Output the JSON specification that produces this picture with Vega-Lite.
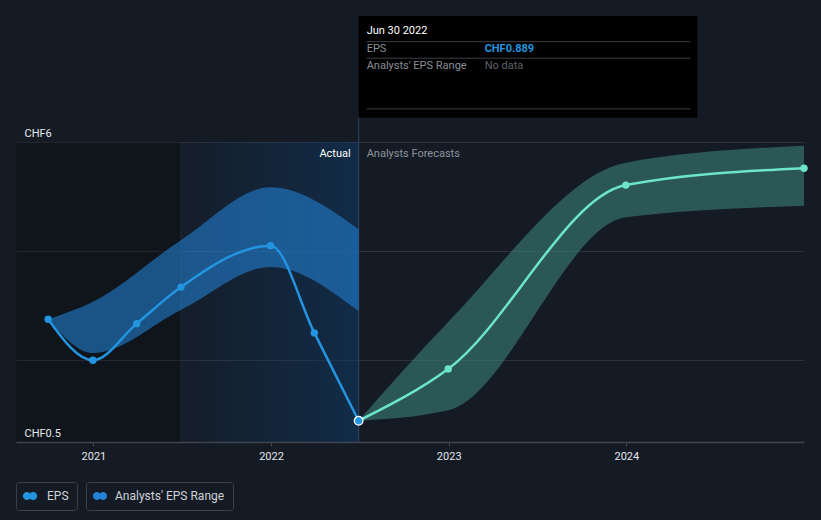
{
  "$schema": "https://vega.github.io/schema/vega-lite/v6.json",
  "autosize": {"type": "none"},
  "width": 788,
  "height": 300,
  "padding": {"left": 16, "top": 142, "right": 17, "bottom": 78},
  "background": "#151b25",
  "config": {
    "view": {"stroke": null},
    "font": "Roboto",
    "axis": {"labelFont": "Roboto", "titleFont": "Roboto"},
    "legend": {"labelFont": "Roboto"}
  },
  "data": {"values": [{"one": 1}]},
  "datasets": {
    "past": [
      {"d": "2020-09-30", "v": 2.75},
      {"d": "2020-12-31", "v": 2.0},
      {"d": "2021-03-31", "v": 2.67},
      {"d": "2021-06-30", "v": 3.34},
      {"d": "2021-12-31", "v": 4.10},
      {"d": "2022-03-31", "v": 2.50},
      {"d": "2022-06-30", "v": 0.889}
    ],
    "pastBand": [
      {"d": "2020-09-30", "lo": 2.75, "hi": 2.75},
      {"d": "2020-12-31", "lo": 2.13, "hi": 3.07},
      {"d": "2021-06-30", "lo": 2.92, "hi": 4.20},
      {"d": "2021-12-31", "lo": 3.71, "hi": 5.17},
      {"d": "2022-06-30", "lo": 2.90, "hi": 4.40}
    ],
    "forecast": [
      {"d": "2022-06-30", "v": 0.889},
      {"d": "2022-12-31", "v": 1.84},
      {"d": "2023-12-31", "v": 5.21},
      {"d": "2024-12-31", "v": 5.52}
    ],
    "forecastBand": [
      {"d": "2022-06-30", "lo": 0.889, "hi": 0.889},
      {"d": "2022-12-31", "lo": 1.08, "hi": 2.70},
      {"d": "2023-12-31", "lo": 4.62, "hi": 5.62},
      {"d": "2024-12-31", "lo": 4.83, "hi": 5.93}
    ]
  },
  "resolve": {"scale": {"color": "independent"}, "legend": {"color": "independent"}, "axis": {"y": "independent"}},
  "layer": [
    {
      "mark": {"type": "rect", "color": "#000000", "opacity": 0.22},
      "encoding": {
        "x": {"datum": {"year": 2020, "month": 7, "date": 26, "utc": true}, "type": "temporal",
              "scale": {"type": "utc", "domain": [{"year": 2020, "month": 7, "date": 26, "utc": true}, {"year": 2024, "month": 12, "date": 31, "utc": true}]},
              "axis": {"values": [{"year": 2021, "utc": true}, {"year": 2022, "utc": true}, {"year": 2023, "utc": true}, {"year": 2024, "utc": true}],
                       "format": "%Y", "title": null, "grid": false, "domainColor": "#3f444e", "domainWidth": 1.5, "zindex": 1,
                       "tickColor": "#3f444e", "tickSize": 4, "labelColor": "#e4e6ea", "labelFontSize": 11, "labelPadding": 4}},
        "x2": {"datum": {"year": 2021, "month": 6, "date": 30, "utc": true}},
        "y": {"datum": 0.5, "type": "quantitative",
              "scale": {"domain": [0.5, 6], "zero": false, "nice": false},
              "axis": {"orient": "left", "values": [2, 4, 6], "grid": true, "gridColor": "#2c313b", "gridWidth": 1, "zindex": 0,
                       "labels": false, "ticks": false, "domain": false, "title": null}},
        "y2": {"datum": 6}
      }
    },
    {
      "mark": {"type": "rect", "color": {"gradient": "linear", "x1": 0, "y1": 0, "x2": 1, "y2": 0,
                "stops": [{"offset": 0, "color": "rgba(14,60,105,0.06)"}, {"offset": 1, "color": "rgba(14,60,105,0.5)"}]}},
      "encoding": {
        "x": {"datum": {"year": 2021, "month": 6, "date": 30, "utc": true}, "type": "temporal"},
        "x2": {"datum": {"year": 2022, "month": 6, "date": 30, "utc": true}},
        "y": {"datum": 0.5, "type": "quantitative", "axis": null},
        "y2": {"datum": 6}
      }
    },
    {
      "mark": {"type": "rule", "color": "#1c2a3a", "strokeWidth": 1},
      "encoding": {
        "x": {"datum": {"year": 2021, "month": 6, "date": 30, "utc": true}, "type": "temporal"},
        "y": {"datum": 0.5, "type": "quantitative", "axis": null},
        "y2": {"datum": 6}
      }
    },
    {
      "mark": {"type": "rule", "color": "#2a4763", "strokeWidth": 1},
      "encoding": {
        "x": {"datum": {"year": 2022, "month": 6, "date": 30, "utc": true}, "type": "temporal"},
        "y": {"datum": 0.5, "type": "quantitative", "axis": null},
        "y2": {"datum": 6.45}
      }
    },
    {
      "data": {"name": "pastBand"},
      "mark": {"type": "area", "interpolate": "monotone", "opacity": 0.58},
      "encoding": {
        "x": {"field": "d", "type": "temporal"},
        "y": {"field": "hi", "type": "quantitative", "axis": null},
        "y2": {"field": "lo"},
        "color": {"datum": "Analysts' EPS Range", "scale": {"range": ["#2282d4"]},
                  "legend": {"orient": "none", "legendX": 70, "legendY": 340, "direction": "horizontal", "title": null,
                             "strokeColor": "#3c414b", "cornerRadius": 3, "padding": 8, "symbolOpacity": 1,
                             "symbolType": "M-1.6,0a0.9,0.9 0 1,0 1.8,0a0.9,0.9 0 1,0 -1.8,0M-0.2,0a0.9,0.9 0 1,0 1.8,0a0.9,0.9 0 1,0 -1.8,0",
                             "symbolSize": 80, "symbolFillColor": "#285e7c", "symbolStrokeWidth": 0,
                             "labelColor": "#cfd2d8", "labelFontSize": 12, "labelOffset": 9}}
      }
    },
    {
      "data": {"name": "forecastBand"},
      "mark": {"type": "area", "interpolate": "monotone", "color": "#3e8a80", "opacity": 0.55},
      "encoding": {
        "x": {"field": "d", "type": "temporal"},
        "y": {"field": "hi", "type": "quantitative", "axis": null},
        "y2": {"field": "lo"}
      }
    },
    {
      "data": {"name": "past"},
      "mark": {"type": "line", "interpolate": "monotone", "color": "#2394df", "strokeWidth": 2.5},
      "encoding": {
        "x": {"field": "d", "type": "temporal"},
        "y": {"field": "v", "type": "quantitative", "axis": null}
      }
    },
    {
      "data": {"name": "forecast"},
      "mark": {"type": "line", "interpolate": "monotone", "color": "#6ce5cc", "strokeWidth": 2.5},
      "encoding": {
        "x": {"field": "d", "type": "temporal"},
        "y": {"field": "v", "type": "quantitative", "axis": null}
      }
    },
    {
      "data": {"name": "past"},
      "mark": {"type": "point", "filled": true, "size": 55, "opacity": 1},
      "encoding": {
        "x": {"field": "d", "type": "temporal"},
        "y": {"field": "v", "type": "quantitative", "axis": null},
        "color": {"datum": "EPS", "scale": {"range": ["#2394df"]},
                  "legend": {"orient": "none", "legendX": 0, "legendY": 340, "direction": "horizontal", "title": null,
                             "strokeColor": "#3c414b", "cornerRadius": 3, "padding": 8,
                             "symbolType": "M-1.6,0a0.9,0.9 0 1,0 1.8,0a0.9,0.9 0 1,0 -1.8,0M-0.2,0a0.9,0.9 0 1,0 1.8,0a0.9,0.9 0 1,0 -1.8,0",
                             "symbolSize": 80, "symbolFillColor": "#48c0da", "symbolStrokeWidth": 0,
                             "labelColor": "#cfd2d8", "labelFontSize": 12, "labelOffset": 11}}
      }
    },
    {
      "data": {"name": "forecast"},
      "transform": [{"filter": "datum.d != '2022-06-30'"}],
      "mark": {"type": "point", "filled": true, "size": 55, "color": "#6ce5cc", "opacity": 1},
      "encoding": {
        "x": {"field": "d", "type": "temporal"},
        "y": {"field": "v", "type": "quantitative", "axis": null}
      }
    },
    {
      "data": {"values": [{"d": "2022-06-30", "v": 0.889}]},
      "mark": {"type": "point", "filled": true, "size": 75, "fill": "#2394df", "stroke": "#ffffff", "strokeWidth": 1.3, "opacity": 1},
      "encoding": {
        "x": {"field": "d", "type": "temporal"},
        "y": {"field": "v", "type": "quantitative", "axis": null}
      }
    },
    {
      "mark": {"type": "text", "align": "right", "baseline": "middle", "dx": -8, "dy": 12, "color": "#ffffff", "fontSize": 11},
      "encoding": {
        "x": {"datum": {"year": 2022, "month": 6, "date": 30, "utc": true}, "type": "temporal"},
        "y": {"datum": 6, "type": "quantitative",
              "axis": {"orient": "left", "values": [0.5, 6], "labelExpr": "'CHF' + datum.value", "grid": false, "ticks": false, "domain": false,
                       "zindex": 1, "labelOverlap": false, "title": null,
                       "labelAlign": "left", "labelBaseline": "alphabetic", "labelPadding": -8, "labelOffset": -6,
                       "labelColor": "#e8eaee", "labelFontSize": 11}},
        "text": {"value": "Actual"}
      }
    },
    {
      "mark": {"type": "text", "align": "left", "baseline": "middle", "dx": 8, "dy": 12, "color": "#8e939b", "fontSize": 11},
      "encoding": {
        "x": {"datum": {"year": 2022, "month": 6, "date": 30, "utc": true}, "type": "temporal"},
        "y": {"datum": 6, "type": "quantitative", "axis": null},
        "text": {"value": "Analysts Forecasts"}
      }
    },
    {
      "mark": {"type": "rect", "color": "#000000"},
      "encoding": {
        "x": {"datum": {"year": 2022, "month": 6, "date": 30, "utc": true}, "type": "temporal"},
        "x2": {"datum": {"year": 2024, "month": 5, "date": 26, "utc": true}},
        "y": {"datum": 6.446, "type": "quantitative", "axis": null},
        "y2": {"datum": 8.312}
      }
    },
    {
      "data": {"values": [{"y": 7.84}, {"y": 7.536}, {"y": 6.606}]},
      "mark": {"type": "rule", "color": "#3a3d42", "strokeWidth": 1, "xOffset": 8, "x2Offset": -7},
      "encoding": {
        "x": {"datum": {"year": 2022, "month": 6, "date": 30, "utc": true}, "type": "temporal"},
        "x2": {"datum": {"year": 2024, "month": 5, "date": 26, "utc": true}},
        "y": {"field": "y", "type": "quantitative", "axis": null}
      }
    },
    {
      "mark": {"type": "text", "align": "left", "baseline": "middle", "dx": 8, "color": "#ffffff", "fontSize": 11},
      "encoding": {
        "x": {"datum": {"year": 2022, "month": 6, "date": 30, "utc": true}, "type": "temporal"},
        "y": {"datum": 8.04, "type": "quantitative", "axis": null},
        "text": {"value": "Jun 30 2022"}
      }
    },
    {
      "data": {"values": [{"t": "EPS", "y": 7.706}, {"t": "Analysts' EPS Range", "y": 7.394}]},
      "mark": {"type": "text", "align": "left", "baseline": "middle", "dx": 8, "color": "#8a8e95", "fontSize": 11},
      "encoding": {
        "x": {"datum": {"year": 2022, "month": 6, "date": 30, "utc": true}, "type": "temporal"},
        "y": {"field": "y", "type": "quantitative", "axis": null},
        "text": {"field": "t"}
      }
    },
    {
      "mark": {"type": "text", "align": "left", "baseline": "middle", "dx": 126, "color": "#2394df", "fontSize": 11, "fontWeight": "bold"},
      "encoding": {
        "x": {"datum": {"year": 2022, "month": 6, "date": 30, "utc": true}, "type": "temporal"},
        "y": {"datum": 7.706, "type": "quantitative", "axis": null},
        "text": {"value": "CHF0.889"}
      }
    },
    {
      "mark": {"type": "text", "align": "left", "baseline": "middle", "dx": 126, "color": "#5e6269", "fontSize": 11},
      "encoding": {
        "x": {"datum": {"year": 2022, "month": 6, "date": 30, "utc": true}, "type": "temporal"},
        "y": {"datum": 7.394, "type": "quantitative", "axis": null},
        "text": {"value": "No data"}
      }
    }
  ]
}
